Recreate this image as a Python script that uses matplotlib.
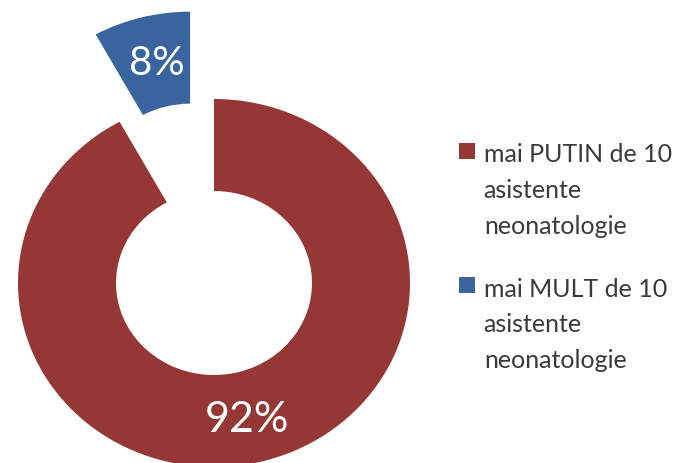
import matplotlib.pyplot as plt
from matplotlib.patches import Patch

labels = ['mai PUTIN de 10\nasistente\nneonatologie', 'mai MULT de 10\nasistente\nneonatologie']
values = [92, 8]
pct_labels = ['92%', '8%']
colors = ['#953735', '#3A64A0']
explode = [0, 0.49]

plt.rcParams['font.family'] = ['Lato', 'DejaVu Sans']

fig = plt.figure(figsize=(6.82, 4.64), dpi=100)
ax = fig.add_axes([0, 0, 440 / 682, 1])

wedges, _ = ax.pie(values, colors=colors, explode=explode, startangle=90, counterclock=False,
                   radius=1, wedgeprops=dict(width=0.5, linewidth=0))
ax.set_aspect('auto')
ax.set_xlim(-214 / 196, 226 / 196)
ax.set_ylim(-180 / 184, 284 / 184)
ax.axis('off')

# percentage labels inside the ring
ax.text(0.17, -0.74, pct_labels[0], color='white', fontsize=31, ha='center', va='center')
ax.text(-0.29, 1.2, pct_labels[1], color='white', fontsize=29, ha='center', va='center')

handles = [Patch(facecolor=c, edgecolor='none') for c in colors]
leg = fig.legend(handles, labels, loc='upper left', bbox_to_anchor=(441 / 682, 1 - 126 / 464),
                 frameon=False, fontsize=18, labelcolor='#3a3a3a', handlelength=0.65,
                 handleheight=0.65, handletextpad=0.36, labelspacing=1.6, borderpad=0.2)
for t in leg.get_texts():
    t.set_linespacing(1.66)
# square next to the first line of each label
for col in leg._legend_handle_box.get_children():
    for row in col.get_children():
        row.align = 'top'

fig.savefig('out.png', dpi=100)
